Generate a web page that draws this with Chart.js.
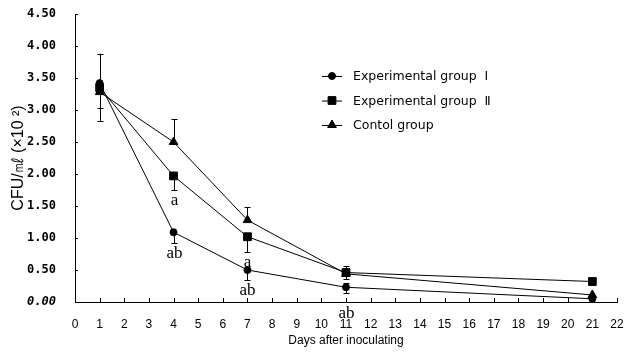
<!DOCTYPE html>
<html>
<head>
<meta charset="utf-8">
<script src="https://cdn.jsdelivr.net/npm/chart.js@4"></script>
<style>
  html, body { margin: 0; padding: 0; background: #fff; }
  #wrap { width: 627px; height: 352px; }
</style>
</head>
<body>
<div id="wrap"><canvas id="cfuChart" width="627" height="352"></canvas></div>
<script>
// DATA
const days = [1, 4, 7, 11, 21];
const groupNames = ['Experimental group  \u2160', 'Experimental group  \u2161', 'Contol group'];
const expI = [3.42, 1.09, 0.50, 0.23, 0.05];
const expII = [3.35, 1.97, 1.02, 0.46, 0.32];
const control = [3.28, 2.50, 1.28, 0.44, 0.11];
// error bar lengths (upper / lower) per point
const expIUp = [0.46, 0, 0, 0.07, 0];
const expIDown = [0, 0.17, 0.16, 0.09, 0];
const expIIUp = [0, 0, 0, 0.10, 0];
const expIIDown = [0.32, 0.22, 0.24, 0.10, 0];
const controlUp = [0, 0.36, 0.20, 0, 0];
const controlDown = [0.45, 0, 0, 0, 0];
// significance letters under each point
const expISig = ['', 'ab', 'ab', 'ab', ''];
const expIISig = ['', 'a', 'a', '', ''];
const controlSig = ['', '', '', '', ''];
const yTicks = [0, 0.5, 1, 1.5, 2, 2.5, 3, 3.5, 4, 4.5];

const toPoints = vals => vals.map((v, i) => ({ x: days[i], y: v }));

// --- custom drawing: inner ticks, error bars, letters, legend
const extrasPlugin = {
    id: 'extras',
    afterDatasetsDraw(chart) {
        const ctx = chart.ctx;
        const xs = chart.scales.x, ys = chart.scales.y;
        const area = chart.chartArea;
        ctx.save();
        ctx.strokeStyle = '#000';
        ctx.lineWidth = 1;

        // ticks pointing into the plot
        ctx.beginPath();
        for (let d = 1; d <= 22; d++) {
            const px = Math.round(xs.getPixelForValue(d)) + 0.5;
            ctx.moveTo(px, area.bottom);
            ctx.lineTo(px, area.bottom - 4);
        }
        yTicks.forEach(t => {
            if (t === 0) return;
            const py = Math.round(ys.getPixelForValue(t)) + 0.5;
            ctx.moveTo(area.left, py);
            ctx.lineTo(area.left + 3, py);
        });
        ctx.stroke();

        // error bars + letters
        chart.data.datasets.forEach(ds => {
            ds.data.forEach((p, i) => {
                const px = Math.round(xs.getPixelForValue(p.x)) + 0.5;
                const up = ds.errUp[i], down = ds.errDown[i];
                const yTop = ys.getPixelForValue(p.y + up);
                const yBot = ys.getPixelForValue(p.y - down);
                ctx.beginPath();
                if (up > 0) {
                    ctx.moveTo(px, ys.getPixelForValue(p.y));
                    ctx.lineTo(px, yTop);
                    ctx.moveTo(px - 3, Math.round(yTop) + 0.5);
                    ctx.lineTo(px + 3, Math.round(yTop) + 0.5);
                }
                if (down > 0) {
                    ctx.moveTo(px, ys.getPixelForValue(p.y));
                    ctx.lineTo(px, yBot);
                    ctx.moveTo(px - 3, Math.round(yBot) + 0.5);
                    ctx.lineTo(px + 3, Math.round(yBot) + 0.5);
                }
                ctx.stroke();
                const sig = ds.sig[i];
                if (sig) {
                    ctx.fillStyle = '#000';
                    ctx.font = '17px "Liberation Serif", "Times New Roman", serif';
                    ctx.textAlign = 'center';
                    ctx.textBaseline = 'top';
                    // letters that would cross the x axis go below it
                    let ty = yBot + 2;
                    if (ty + 15 > area.bottom) ty = area.bottom + 3;
                    ctx.fillText(sig, px, ty);
                }
            });
        });

        // legend
        const lx = 322, ly = 76, gap = 24.5;
        chart.data.datasets.forEach((ds, i) => {
            const y = ly + i * gap;
            ctx.beginPath();
            ctx.moveTo(lx, y + 0.5);
            ctx.lineTo(lx + 20, y + 0.5);
            ctx.stroke();
            Chart.helpers.drawPoint(ctx, {
                pointStyle: ds.pointStyle, radius: ds.pointRadius, rotation: 0, borderWidth: 1
            }, lx + 10, y);
            ctx.fillStyle = '#000';
            ctx.font = '12.5px "DejaVu Sans", Arial, sans-serif';
            ctx.textAlign = 'left';
            ctx.textBaseline = 'middle';
            ctx.fillText(ds.label, lx + 31, y + 1);
        });
        ctx.restore();
    }
};

const ds = (label, vals, up, down, sig, style, r) => ({
    label, data: toPoints(vals), errUp: up, errDown: down, sig,
    borderColor: '#000', backgroundColor: '#000', borderWidth: 1,
    pointStyle: style, pointRadius: r, pointHoverRadius: r,
    pointBackgroundColor: '#000', pointBorderColor: '#000', tension: 0
});

new Chart(document.getElementById('cfuChart'), {
    type: 'line',
    data: {
        datasets: [
            ds(groupNames[0], expI, expIUp, expIDown, expISig, 'circle', 3.5),
            ds(groupNames[1], expII, expIIUp, expIIDown, expIISig, 'rect', 5.5),
            ds(groupNames[2], control, controlUp, controlDown, controlSig, 'triangle', 5)
        ]
    },
    options: {
        responsive: false,
        animation: false,
        layout: { padding: { top: 14, right: 10, left: 0, bottom: 0 } },
        plugins: { legend: { display: false }, tooltip: { enabled: false } },
        scales: {
            x: {
                type: 'linear', min: 0, max: 22,
                afterFit: s => { s.height = 50; s.paddingLeft = 0; s.paddingRight = 0; },
                grid: { display: true, drawOnChartArea: false, drawTicks: false },
                border: { color: '#000', width: 1 },
                ticks: {
                    stepSize: 1, autoSkip: false, maxRotation: 0, padding: 15, color: '#000',
                    font: { family: '"Liberation Sans Narrow", "Liberation Sans", Arial', size: 12 }
                },
                title: {
                    display: true, text: 'Days after inoculating', color: '#000',
                    font: { family: '"Liberation Sans", Arial', size: 12 },
                    padding: { top: 0, bottom: 4 }
                }
            },
            y: {
                min: 0, max: 4.5,
                afterFit: s => { s.width = 75; s.paddingTop = 0; s.paddingBottom = 0; },
                afterBuildTicks: s => { s.ticks = yTicks.map(v => ({ value: v })); },
                grid: { display: true, drawOnChartArea: false, drawTicks: false },
                border: { color: '#000', width: 1 },
                ticks: {
                    padding: 19, color: '#000',
                    callback: v => v.toFixed(2),
                    font: ctx => ({
                        family: '"DejaVu Sans Mono", "Liberation Mono", monospace',
                        size: 12, weight: 'bold', style: ctx.index === 0 ? 'italic' : 'normal'
                    })
                },
                title: {
                    display: true, text: 'CFU/\u3396 (\u00d710 \u00b2)', color: '#000',
                    font: { family: '"Liberation Sans", Arial', size: 16 },
                    padding: { top: 9, bottom: 0 }
                }
            }
        }
    },
    plugins: [extrasPlugin]
});
</script>
</body>
</html>
